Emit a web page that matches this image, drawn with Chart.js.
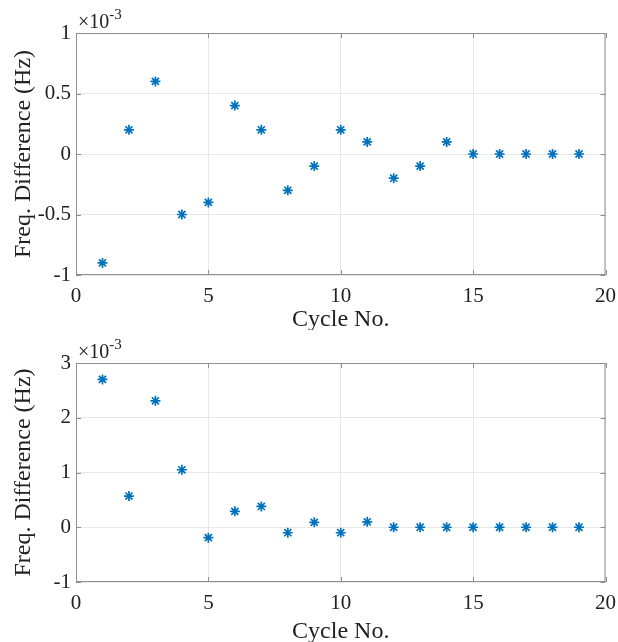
<!DOCTYPE html>
<html lang="en">
<head>
<meta charset="UTF-8">
<title>Freq. Difference per Cycle</title>
<script src="https://cdn.jsdelivr.net/npm/chart.js"></script>
<style>
  body { margin: 0; background: #fff; overflow: hidden; }
  .panel { position: absolute; left: 0; width: 625px; }
</style>
</head>
<body>
<div class="panel" style="top:0;height:330px"><canvas id="topChart"></canvas></div>
<div class="panel" style="top:330px;height:312px"><canvas id="bottomChart"></canvas></div>
<script>
// values are in units of 1e-3 Hz (axis shows x10^-3)
const cycles = [1, 2, 3, 4, 5, 6, 7, 8, 9, 10, 11, 12, 13, 14, 15, 16, 17, 18, 19];
const topDiff = [-0.9, 0.2, 0.6, -0.5, -0.4, 0.4, 0.2, -0.3, -0.1, 0.2, 0.1, -0.2, -0.1, 0.1, 0, 0, 0, 0, 0];
const bottomDiff = [2.7, 0.57, 2.31, 1.05, -0.19, 0.29, 0.38, -0.1, 0.09, -0.1, 0.1, 0, 0, 0, 0, 0, 0, 0, 0];
const xTicks = [0, 5, 10, 15, 20];
const topYTicks = [-1, -0.5, 0, 0.5, 1];
const bottomYTicks = [-1, 0, 1, 2, 3];

const serif = "'Liberation Serif', 'Times New Roman', serif";
const markColor = '#0072BD';

// full box, inward ticks and the x10^-3 exponent label
const matlabAxes = {
  id: 'matlabAxes',
  afterDraw(chart) {
    const { ctx, chartArea: a, scales } = chart;
    ctx.save();
    ctx.strokeStyle = '#8f8f8f';
    ctx.lineWidth = 1;
    ctx.strokeRect(a.left + 0.5, a.top + 0.5, a.right - a.left - 1, a.bottom - a.top - 1);
    const len = 5;
    ctx.beginPath();
    scales.x.ticks.forEach(t => {
      const px = Math.round(scales.x.getPixelForValue(t.value)) + 0.5;
      ctx.moveTo(px, a.bottom); ctx.lineTo(px, a.bottom - len);
      ctx.moveTo(px, a.top); ctx.lineTo(px, a.top + len);
    });
    scales.y.ticks.forEach(t => {
      const py = Math.round(scales.y.getPixelForValue(t.value)) + 0.5;
      ctx.moveTo(a.left, py); ctx.lineTo(a.left + len, py);
      ctx.moveTo(a.right, py); ctx.lineTo(a.right - len, py);
    });
    ctx.stroke();

    ctx.fillStyle = '#222';
    ctx.textBaseline = 'alphabetic';
    ctx.textAlign = 'left';
    ctx.font = '20px ' + serif;
    const x0 = a.left + 2, y0 = a.top - 5;
    ctx.fillText('\u00d710', x0, y0);
    const w = ctx.measureText('\u00d710').width;
    ctx.font = '15px ' + serif;
    ctx.fillText('-3', x0 + w, y0 - 9);
    ctx.restore();
  }
};

function makeChart(id, values, yTicks, yMin, yMax, xAxisHeight) {
  return new Chart(document.getElementById(id), {
    type: 'scatter',
    data: {
      datasets: [{
        data: cycles.map((c, i) => ({ x: c, y: values[i] })),
        pointStyle: 'star',
        radius: 5,
        borderWidth: 1.7,
        borderColor: markColor,
        backgroundColor: markColor
      }]
    },
    options: {
      responsive: true,
      maintainAspectRatio: false,
      animation: false,
      layout: { padding: { top: 33, right: 6, left: 0, bottom: 0 } },
      plugins: { legend: { display: false }, tooltip: { enabled: false } },
      scales: {
        x: {
          min: 0, max: 20,
          afterBuildTicks: s => { s.ticks = xTicks.map(v => ({ value: v })); },
          afterFit: s => { s.height = xAxisHeight; },
          grid: { color: '#e8e8e8', drawTicks: false },
          border: { display: false },
          ticks: { color: '#222', padding: 9, font: { family: serif, size: 21 }, callback: v => String(v) },
          title: { display: true, text: 'Cycle No.', color: '#222', padding: { top: 0, bottom: -4 }, font: { family: serif, size: 24 } }
        },
        y: {
          min: yMin, max: yMax,
          afterBuildTicks: s => { s.ticks = yTicks.map(v => ({ value: v })); },
          afterFit: s => { s.width = 76; },
          grid: { color: '#e8e8e8', drawTicks: false },
          border: { display: false },
          ticks: { color: '#222', padding: 5, font: { family: serif, size: 21 }, callback: v => String(v) },
          title: { display: true, text: 'Freq. Difference (Hz)', color: '#222', padding: { top: 9, bottom: 0 }, font: { family: serif, size: 24 } }
        }
      }
    },
    plugins: [matlabAxes]
  });
}

makeChart('topChart', topDiff, topYTicks, -1, 1, 55);
makeChart('bottomChart', bottomDiff, bottomYTicks, -1, 3, 60);
</script>
</body>
</html>
